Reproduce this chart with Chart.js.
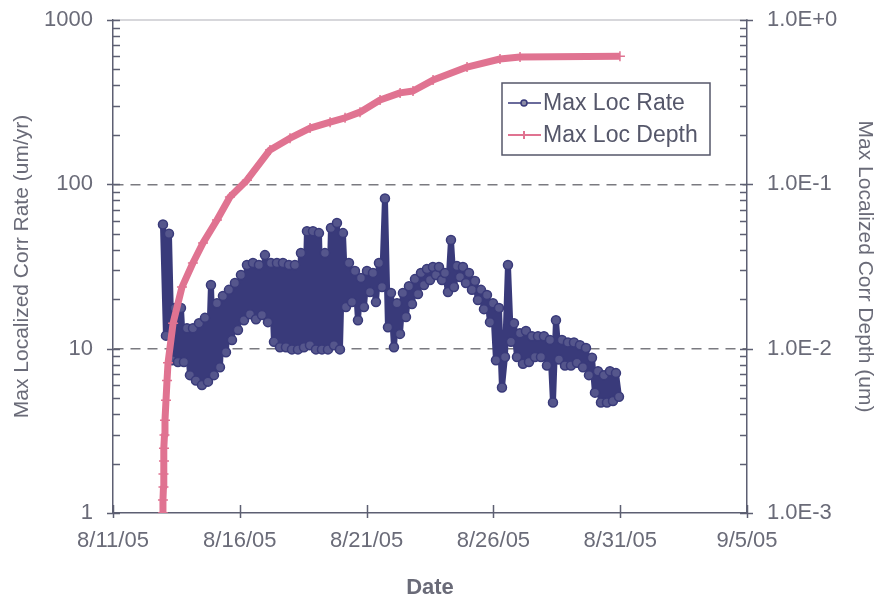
<!DOCTYPE html>
<html>
<head>
<meta charset="utf-8">
<title>Max Localized Corrosion Rate and Depth</title>
<script src="https://cdn.jsdelivr.net/npm/chart.js@4.4.0/dist/chart.umd.min.js"></script>
<style>
  html, body { margin: 0; padding: 0; background: #fff; }
  canvas { display: block; }
</style>
</head>
<body>
<canvas id="corrChart" width="881" height="608"></canvas>
<script>
// Axis labels
const dateTickLabels = ['8/11/05', '8/16/05', '8/21/05', '8/26/05', '8/31/05', '9/5/05'];
const rateMajorValues = [1, 10, 100, 1000];
const rateTickLabels = ['1', '10', '100', '1000'];
const depthMajorValues = [0.001, 0.01, 0.1, 1];
const depthTickLabels = ['1.0E-3', '1.0E-2', '1.0E-1', '1.0E+0'];

// Max Loc Rate (um/yr), logged at a fixed interval starting 8/12/05 ~23:00
const rateStartDay = 1.97;      // days after 8/11/05
const rateIntervalDays = 0.1183;
const rateValues = [
    57, 12, 50, 8.5, 17.7, 8.3, 17.7, 8.3, 13.3, 6.9,
    13.3, 6.4, 14.3, 6.0, 15.4, 6.3, 24.4, 6.9, 18.9, 7.7,
    20.9, 9.5, 22.8, 11.3, 25.1, 13.0, 28.1, 14.9, 32.3, 16.2,
    33.2, 15.1, 32.3, 16.0, 37.1, 14.5, 33.2, 11.0, 33.2, 10.2,
    33.2, 10.2, 32.3, 9.9, 32.3, 9.9, 38.2, 10.2, 51.9, 10.5,
    51.9, 9.9, 50.5, 9.9, 38.2, 9.9, 54.2, 10.5, 58.1, 9.9,
    50.5, 17.9, 33.2, 19.2, 29.7, 14.9, 26.9, 17.9, 29.7, 22.1,
    28.9, 19.2, 33.2, 23.7, 82, 13.5, 21.8, 10.2, 18.9, 12.3,
    21.8, 15.6, 24.0, 18.7, 26.5, 21.5, 28.9, 24.4, 30.5, 26.2,
    31.4, 28.1, 31.4, 26.2, 28.9, 22.1, 45.8, 23.7, 31.8, 27.3,
    31.4, 25.1, 28.9, 22.8, 25.8, 19.8, 22.8, 17.4, 21.2, 14.5,
    18.9, 8.5, 17.7, 5.8, 8.9, 32.3, 11.0, 14.3, 8.9, 12.4,
    8.1, 12.8, 8.3, 11.9, 8.9, 11.9, 8.9, 11.9, 7.9, 11.3,
    4.7, 14.9, 8.6, 11.3, 7.9, 10.9, 7.9, 10.9, 8.2, 10.5,
    7.7, 10.1, 6.9, 8.8, 5.4, 7.3, 4.7, 6.9, 4.7, 7.3,
    4.8, 7.1, 5.1
];

// Max Loc Depth (um)
const depthDays = [
    1.97, 1.97, 1.99, 1.99, 2.01, 2.01, 2.03, 2.05, 2.09, 2.13,
    2.17, 2.37, 2.72, 3.15, 3.55, 4.10, 4.61, 5.28, 6.19, 6.98,
    7.77, 8.56, 9.15, 9.74, 10.53, 11.32, 11.83, 12.62, 13.96, 15.26,
    16.05, 19.99
];
const depthValues = [
    0.0010, 0.0012, 0.00144, 0.00173, 0.00207, 0.00248, 0.00298, 0.00367, 0.00486, 0.0064,
    0.0082, 0.0143, 0.0237, 0.0332, 0.044, 0.0607, 0.0837, 0.106, 0.162, 0.191,
    0.220, 0.239, 0.254, 0.275, 0.326, 0.360, 0.370, 0.431, 0.517, 0.579,
    0.595, 0.602
];

const axisColor = '#5d5f72';
const textColor = '#6a6b78';
const rateColor = '#393a7a';
const depthColor = '#e07391';
const fontFamily = '"Liberation Sans", Arial, sans-serif';

Chart.defaults.font.family = fontFamily;
Chart.defaults.color = textColor;

// 1..9 steps inside every decade
function logTicks(majors) {
    const out = [];
    for (let i = 0; i < majors.length - 1; i++) {
        for (let m = 1; m < 10; m++) {
            out.push(Number((majors[i] * m).toPrecision(3)));
        }
    }
    out.push(majors[majors.length - 1]);
    return out;
}

function majorLabel(value, majors, labels) {
    const i = majors.findIndex(m => Math.abs(m - value) < m * 1e-6);
    return i >= 0 ? labels[i] : '';
}

// Small tick marks that sit inside the plot, plus the top frame line
const tickMarks = {
    id: 'tickMarks',
    afterDraw(chart) {
        const { ctx, chartArea: a, scales } = chart;
        ctx.save();
        ctx.strokeStyle = '#b0b0b8';
        ctx.lineWidth = 1.2;
        ctx.beginPath();
        ctx.moveTo(a.left, a.top);
        ctx.lineTo(a.right, a.top);
        ctx.stroke();

        ctx.strokeStyle = axisColor;
        ctx.lineWidth = 1.5;
        ctx.beginPath();
        scales.y.ticks.forEach(t => {
            const py = Math.round(scales.y.getPixelForValue(t.value)) + 0.5;
            const major = majorLabel(t.value, rateMajorValues, rateTickLabels) !== '';
            ctx.moveTo(a.left - (major ? 6 : 0), py);
            ctx.lineTo(a.left + 7, py);
        });
        scales.y1.ticks.forEach(t => {
            const py = Math.round(scales.y1.getPixelForValue(t.value)) + 0.5;
            const major = majorLabel(t.value, depthMajorValues, depthTickLabels) !== '';
            ctx.moveTo(a.right - 7, py);
            ctx.lineTo(a.right + (major ? 6 : 0), py);
        });
        scales.x.ticks.forEach(t => {
            const px = Math.round(scales.x.getPixelForValue(t.value)) + 0.5;
            ctx.moveTo(px, a.bottom + 5);
            ctx.lineTo(px, a.bottom - 8);
        });
        ctx.stroke();
        ctx.restore();
    }
};

// Boxed legend in the upper right of the plot
const legendBox = {
    id: 'legendBox',
    afterDraw(chart) {
        const ctx = chart.ctx;
        const left = 502, top = 83, width = 208, height = 72;
        ctx.save();
        ctx.fillStyle = '#fff';
        ctx.fillRect(left, top, width, height);
        ctx.strokeStyle = '#55576a';
        ctx.lineWidth = 1.5;
        ctx.strokeRect(left, top, width, height);

        ctx.font = '23px ' + fontFamily;
        ctx.textBaseline = 'middle';
        ctx.textAlign = 'left';

        chart.data.datasets.forEach((ds, i) => {
            const y = top + 20 + i * 32;
            ctx.strokeStyle = ds.borderColor;
            ctx.lineWidth = i === 0 ? 1.5 : 2;
            ctx.beginPath();
            ctx.moveTo(left + 6, y);
            ctx.lineTo(left + 39, y);
            ctx.stroke();
            const mx = left + 22;
            if (i === 0) {
                ctx.fillStyle = '#8c8ca6';
                ctx.beginPath();
                ctx.arc(mx, y, 3, 0, Math.PI * 2);
                ctx.fill();
                ctx.stroke();
            } else {
                ctx.beginPath();
                ctx.moveTo(mx, y - 4);
                ctx.lineTo(mx, y + 4);
                ctx.stroke();
            }
            ctx.fillStyle = '#55576a';
            ctx.fillText(ds.label, left + 41, y + 1);
        });
        ctx.restore();
    }
};

// keep the plot box fixed: no extra room for half-height edge labels
function fixVertical(scale, width) {
    scale.width = width;
    scale.paddingTop = 0;
    scale.paddingBottom = 0;
}

const ctx = document.getElementById('corrChart').getContext('2d');

const corrChart = new Chart(ctx, {
    type: 'line',
    data: {
        datasets: [
            {
                label: 'Max Loc Rate',
                data: rateValues.map((v, i) => ({ x: rateStartDay + i * rateIntervalDays, y: v })),
                yAxisID: 'y',
                borderColor: rateColor,
                borderWidth: 6,
                borderJoinStyle: 'round',
                borderCapStyle: 'round',
                pointRadius: 4.5,
                pointBorderWidth: 1.5,
                pointBorderColor: rateColor,
                pointBackgroundColor: '#55568c',
                tension: 0,
                order: 1
            },
            {
                label: 'Max Loc Depth',
                data: depthDays.map((d, i) => ({ x: d, y: depthValues[i] })),
                yAxisID: 'y1',
                borderColor: depthColor,
                borderWidth: 7,
                borderJoinStyle: 'round',
                pointStyle: 'cross',
                pointRadius: 5,
                pointBorderWidth: 1.5,
                pointBorderColor: depthColor,
                tension: 0,
                order: 0
            }
        ]
    },
    options: {
        responsive: false,
        animation: false,
        devicePixelRatio: 1,
        layout: {
            padding: { top: 20, left: 0, right: 0, bottom: 0 }
        },
        plugins: {
            legend: { display: false },
            tooltip: { enabled: false }
        },
        scales: {
            x: {
                type: 'linear',
                min: 0,
                max: 25,
                afterBuildTicks: scale => {
                    scale.ticks = dateTickLabels.map((_, i) => ({ value: i * 5 }));
                },
                afterFit: scale => {
                    scale.height = 95;
                    scale.paddingLeft = 0;
                    scale.paddingRight = 0;
                },
                ticks: {
                    padding: 15,
                    autoSkip: false,
                    maxRotation: 0,
                    font: { size: 22 },
                    callback: (value, index) => dateTickLabels[index]
                },
                grid: { display: false, drawTicks: false },
                border: { display: true, color: axisColor, width: 1.5 },
                title: {
                    display: true,
                    text: 'Date',
                    color: textColor,
                    font: { size: 22, weight: 'bold' },
                    padding: { top: 0, bottom: 7 }
                }
            },
            y: {
                type: 'logarithmic',
                position: 'left',
                min: 1,
                max: 1000,
                afterBuildTicks: scale => {
                    scale.ticks = logTicks(rateMajorValues).map(v => ({ value: v }));
                },
                afterFit: scale => fixVertical(scale, 113),
                ticks: {
                    padding: 20,
                    autoSkip: false,
                    font: { size: 22 },
                    callback: value => majorLabel(value, rateMajorValues, rateTickLabels)
                },
                grid: {
                    drawTicks: false,
                    lineWidth: 1.5,
                    color: c => (c.tick && (c.tick.value === 10 || c.tick.value === 100)) ? '#7a7a80' : 'rgba(0,0,0,0)'
                },
                border: { display: true, color: axisColor, width: 1.5, dash: [10, 7] },
                title: {
                    display: true,
                    text: 'Max Localized Corr Rate (um/yr)',
                    color: textColor,
                    font: { size: 21 },
                    padding: { top: 10, bottom: 0 }
                }
            },
            y1: {
                type: 'logarithmic',
                position: 'right',
                min: 0.001,
                max: 1,
                afterBuildTicks: scale => {
                    scale.ticks = logTicks(depthMajorValues).map(v => ({ value: v }));
                },
                afterFit: scale => fixVertical(scale, 134),
                ticks: {
                    padding: 20,
                    autoSkip: false,
                    font: { size: 22 },
                    callback: value => majorLabel(value, depthMajorValues, depthTickLabels)
                },
                grid: { drawOnChartArea: false, drawTicks: false },
                border: { display: true, color: axisColor, width: 1.5 },
                title: {
                    display: true,
                    text: 'Max Localized Corr Depth (um)',
                    color: textColor,
                    font: { size: 21 },
                    padding: { top: 4, bottom: 0 }
                }
            }
        }
    },
    plugins: [tickMarks, legendBox]
});
</script>
</body>
</html>
